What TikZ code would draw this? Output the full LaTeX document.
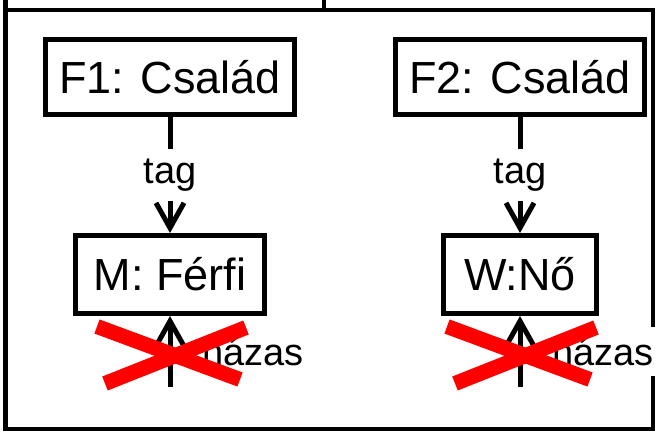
\documentclass[tikz,border=0pt]{standalone}
\usepackage{fontspec}
\setmainfont{Liberation Sans}
\usetikzlibrary{calc}
\usetikzlibrary{positioning}
\usetikzlibrary{arrows.meta}

\begin{document}
\begin{tikzpicture}[x=0.5pt, y=-0.5pt,
  every node/.style={font=\fontsize{22.5}{26}\selectfont},
  classbox/.style={draw, line width=2.5pt, inner sep=0pt, minimum height=37.5pt},
  link/.style={line width=2.5pt, -{Straight Barb[length=12.5pt,width=14pt]}},
  linklabel/.style={fill=white, inner sep=5pt, font=\fontsize{19}{23}\selectfont},
  crossout/.style={draw=red, line width=7.5pt}]

\useasboundingbox (0,0) rectangle (656,433);
\clip (0,0) rectangle (656,433);

% package frame with its tab
\draw[line width=2.2pt] (5.5,10) rectangle (653,429);
\draw[line width=2.2pt] (5.5,10) -- (5.5,-20) -- (324,-20) -- (324,10);

\node[classbox, minimum width=124.5pt] (f1) at (170,77) {F1: Család};
\node[classbox, minimum width=124.5pt, right=48pt of f1] (f2) {F2: Család};
\node[classbox, minimum width=94.5pt, minimum height=39pt, below=58pt of f1] (m) {M: Férfi};
\node[classbox, minimum width=76.5pt, minimum height=39pt, below=58pt of f2] (w) {W:Nő};

\coordinate[below=35.5pt of m] (mfoot);
\coordinate[below=35.5pt of w] (wfoot);

\draw[link] (f1) -- node[linklabel] {tag} (m);
\draw[link] (f2) -- node[linklabel] {tag} (w);
\draw[link] (mfoot) -- node[linklabel, right=10pt] {házas} (m);
\draw[link] (wfoot) -- node[linklabel, right=10pt] {házas} (w);

% crossed out links
\coordinate (mx) at ($(mfoot)!.5!(m.south)$);
\coordinate (wx) at ($(wfoot)!.5!(w.south)$);
\draw[crossout] ([shift={(-73,-25)}]mx) -- ([shift={(70,28)}]mx);
\draw[crossout] ([shift={(-65,32)}]mx) -- ([shift={(76,-24)}]mx);
\draw[crossout] ([shift={(-73,-25)}]wx) -- ([shift={(70,28)}]wx);
\draw[crossout] ([shift={(-65,32)}]wx) -- ([shift={(76,-24)}]wx);
\end{tikzpicture}
\end{document}
